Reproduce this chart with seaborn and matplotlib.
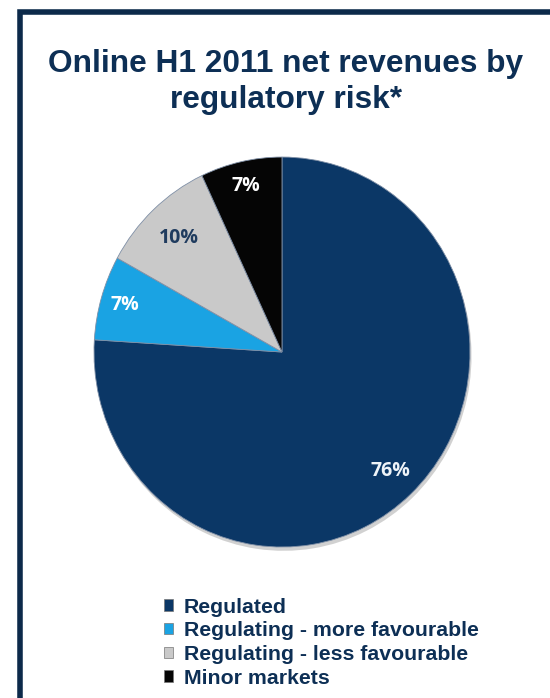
import matplotlib
matplotlib.use("Agg")
import numpy as np
import matplotlib.pyplot as plt
import seaborn as sns
from matplotlib.patches import Rectangle, Patch

categories = ["Regulated", "Regulating - more favourable",
              "Regulating - less favourable", "Minor markets"]
values = [76, 7, 10, 7]
colors = ["#0B3766", "#1AA3E3", "#C9C9C9", "#050505"]
label_colors = ["#EEF3F8", "#FFFFFF", "#1F3B5E", "#FFFFFF"]
title = "Online H1 2011 net revenues by\nregulatory risk*"

sns.set_theme(style="white")
plt.rcParams["font.family"] = ["Liberation Sans", "DejaVu Sans"]

fig = plt.figure(figsize=(5.5, 6.98), dpi=100)
fig.patch.set_facecolor("white")

# frame
fig.add_artist(Rectangle((20 / 550, -0.2), 1.5, 1.2 - 12 / 698,
                         transform=fig.transFigure, fill=False,
                         edgecolor="#0C2A4A", linewidth=4.0, zorder=0))

fig.text(0.52, 1 - 82 / 698, title, ha="center", va="center",
         fontsize=22.8, fontweight="bold", color="#0D2F55", linespacing=1.3)

ax = fig.add_axes([0.1709, 0.2163, 0.6836, 0.5587])
wedges, texts, autotexts = ax.pie(
    values, colors=colors, startangle=90, counterclock=False,
    autopct=lambda p: f"{p:.0f}%", pctdistance=0.84,
    shadow=dict(ox=0.006, oy=-0.014, facecolor="#9a9a9a",
                edgecolor="none", alpha=0.45),
    wedgeprops=dict(edgecolor="#7f8fa6", linewidth=0.6))
label_r = [0.84, 0.87, 0.80, 0.875]
for t, c, w, r in zip(autotexts, label_colors, wedges, label_r):
    t.set_color(c)
    t.set_fontfamily(["Open Sans", "DejaVu Sans"])
    t.set_fontweight("bold")
    t.set_fontsize(14)
    ang = np.deg2rad((w.theta1 + w.theta2) / 2)
    t.set_position((r * np.cos(ang), r * np.sin(ang)))
ax.set_xlim(-1, 1)
ax.set_ylim(-1, 1)
ax.set_aspect("auto")
ax.axis("off")

handles = [Patch(facecolor=c, edgecolor="#777777", linewidth=0.5) for c in colors]
leg = fig.legend(handles, categories, loc="upper left",
                 bbox_to_anchor=(153 / 550, 1 - 587 / 698),
                 frameon=False, handlelength=0.45, handleheight=0.45,
                 handletextpad=0.5, labelspacing=0.22, borderpad=0,
                 prop=dict(family="Liberation Sans", weight="bold", size=15.3))
for t in leg.get_texts():
    t.set_color("#0D2F55")

fig.savefig("out.png", dpi=100, facecolor="white")
